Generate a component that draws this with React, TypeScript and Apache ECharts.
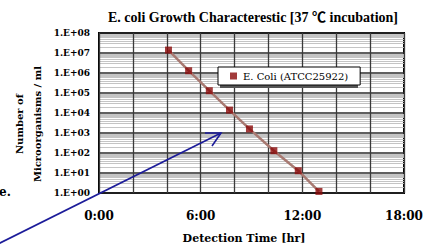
import React, { useEffect, useRef } from "react";
import * as echarts from "echarts";

const seriesName = "E. Coli (ATCC25922)";
const timesHr = [4.1, 5.29, 6.51, 7.7, 8.88, 10.32, 11.76, 12.98];
const counts = [1.4e7, 1.3e6, 1.3e5, 1.4e4, 1.6e3, 1.3e2, 1.3e1, 1.2];
const xTicks = [0, 6, 12, 18];

const SERIF = "DejaVu Serif";
const TITLE_FONT = "'Liberation Serif', 'Noto Sans CJK JP'";

export default function App() {
  const ref = useRef<HTMLDivElement>(null);
  useEffect(() => {
    if (!ref.current) return;
    const chart = echarts.init(ref.current, null, { renderer: "svg" });
    const pts = timesHr.map((t, i) => [t, counts[i]]);
    chart.setOption({
      animation: false,
      grid: {
        left: 99,
        right: 29,
        top: 33,
        bottom: 54,
        show: true,
        borderColor: "#000",
        borderWidth: 2,
        backgroundColor: "transparent",
      },
      legend: {
        data: [{ name: seriesName, icon: "rect" }],
        left: 218,
        top: 67,
        padding: [4, 12, 4, 12],
        itemWidth: 7,
        itemHeight: 7,
        itemGap: 5,
        backgroundColor: "#fff",
        borderColor: "#000",
        borderWidth: 1,
        z: 20,
        textStyle: { fontFamily: SERIF, fontSize: 10, color: "#000", padding: [0, 0, 0, 1] },
      },
      xAxis: {
        type: "value",
        min: 0,
        max: 18,
        interval: 2,
        axisLine: { show: false },
        axisTick: { show: false },
        axisLabel: {
          margin: 17,
          fontFamily: SERIF,
          fontWeight: "bold",
          fontSize: 12,
          color: "#000",
          formatter: (v: number) => (xTicks.includes(v) ? `${v}:00` : ""),
        },
        splitLine: { show: true, lineStyle: { color: "#3a3a3a", width: 1.3 } },
      },
      yAxis: {
        type: "log",
        logBase: 10,
        min: 1,
        max: 1e8,
        axisLine: { show: false },
        axisTick: { show: false },
        minorTick: { show: false, splitNumber: 9 },
        minorSplitLine: { show: true, lineStyle: { color: "#c4c4c4", width: 1 } },
        axisLabel: {
          margin: 9,
          fontFamily: SERIF,
          fontWeight: "bold",
          fontSize: 9,
          color: "#000",
          formatter: (v: number) => {
            const e = Math.round(Math.log10(v));
            return `1.E+${e < 10 ? "0" + e : e}`;
          },
        },
        splitLine: { show: true, lineStyle: { color: "#2a2a2a", width: 1.6 } },
      },
      series: [
        {
          type: "line",
          name: "trend",
          data: pts,
          showSymbol: false,
          symbol: "none",
          lineStyle: { color: "#a87a72", width: 2.5 },
          z: 3,
        },
        {
          type: "scatter",
          name: seriesName,
          data: pts,
          symbol: "rect",
          symbolSize: 7,
          itemStyle: { color: "#8b0a0a" },
          z: 4,
        },
      ],
      graphic: [
        {
          type: "rect",
          shape: { x: 220, y: 69, width: 138, height: 19 },
          style: { fill: "#555" },
          z: 15,
        },
        {
          type: "text",
          x: 253,
          y: 17,
          style: {
            text: "E. coli Growth Characterestic [37 ℃ incubation]",
            font: `bold 14px ${TITLE_FONT}`,
            fill: "#000",
            align: "center",
            verticalAlign: "middle",
          },
        },
        {
          type: "text",
          x: 244,
          y: 238,
          style: {
            text: "Detection Time [hr]",
            font: `bold 11px ${SERIF}`,
            fill: "#000",
            align: "center",
            verticalAlign: "middle",
          },
        },
        {
          type: "text",
          x: 28,
          y: 124,
          rotation: Math.PI / 2,
          style: {
            text: "Number of\nMicroorganisms / ml",
            font: `bold 10px ${SERIF}`,
            lineHeight: 18,
            fill: "#000",
            align: "center",
            verticalAlign: "middle",
          },
        },
        {
          type: "text",
          x: -1,
          y: 192,
          style: {
            text: "e.",
            font: `bold 12px ${SERIF}`,
            fill: "#000",
            align: "left",
            verticalAlign: "middle",
          },
        },
        {
          type: "line",
          shape: { x1: -2, y1: 244, x2: 221, y2: 133 },
          style: { stroke: "#1c1c9a", lineWidth: 1.6 },
          z: 10,
        },
        {
          type: "polyline",
          shape: { points: [[205, 133], [221, 133], [212, 146]] },
          style: { stroke: "#1c1c9a", lineWidth: 1.6, fill: "none" },
          z: 10,
        },
      ],
    });
    return () => chart.dispose();
  }, []);
  return (
    <div
      ref={ref}
      style={{ position: "absolute", left: 0, top: 0, width: 433, height: 247 }}
    />
  );
}
